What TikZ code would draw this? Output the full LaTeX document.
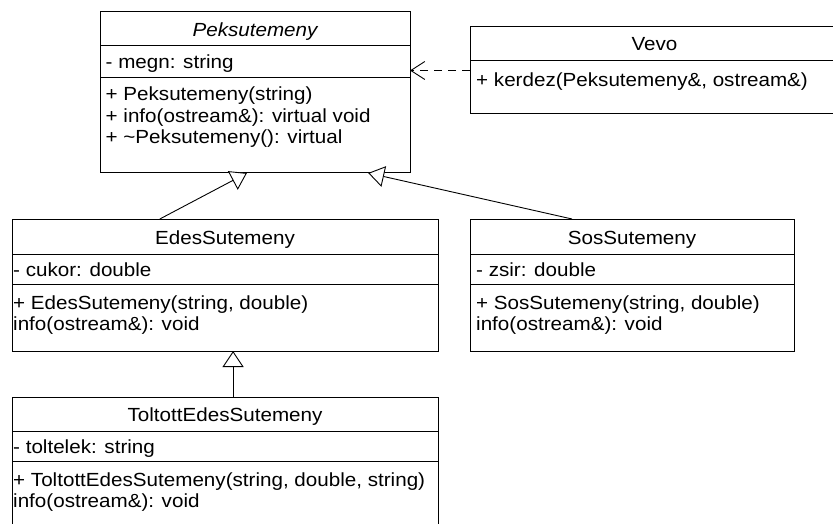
\documentclass[tikz,border=0pt]{standalone}
\usepackage{fontspec}
\setmainfont{Liberation Sans}[FakeStretch=1.085]
\usetikzlibrary{arrows.meta,calc}
\tikzset{
  classbox/.style={draw, line width=1pt, fill=white, inner sep=0pt, outer sep=0pt, anchor=north west},
  sepline/.style={line width=1pt},
  ltxt/.style={anchor=base west, inner sep=0pt, font=\fontsize{19}{21.5}\selectfont},
  ctxt/.style={anchor=base, inner sep=0pt, font=\fontsize{19}{21.5}\selectfont},
  inherit/.style={line width=0.9pt, -{Triangle[open, length=16pt, width=21pt, fill=white]}},
  depend/.style={line width=0.9pt, dash pattern=on 8pt off 6pt, -{Straight Barb[length=14pt, width=18pt]}},
}
\begin{document}
\begin{tikzpicture}[x=1pt,y=-1pt]
\useasboundingbox (0,0) rectangle (833,524);
\clip (0,0) rectangle (833,524);

% Peksutemeny
\node[classbox, minimum width=310pt, minimum height=161pt] (pek) at (100,12) {};
\draw[sepline] ([yshift=-34pt]pek.north west) -- ([yshift=-34pt]pek.north east);
\draw[sepline] ([yshift=-66pt]pek.north west) -- ([yshift=-66pt]pek.north east);
\node[ctxt] (pekT) at ($(pek.north)+(0,25)$) {\itshape Peksutemeny};
\node[ltxt] (pekA) at ($(pek.north west)+(5.5,57)$) {- megn: string};
\node[ltxt] (pekM1) at ($(pek.north west)+(5.5,89)$) {+ Peksutemeny(string)};
\node[ltxt] (pekM2) at ($(pek.north west)+(5.5,110.5)$) {+ info(ostream\&): virtual void};
\node[ltxt] (pekM3) at ($(pek.north west)+(5.5,132)$) {+ \textasciitilde Peksutemeny(): virtual};

% Vevo
\node[classbox, minimum width=369pt, minimum height=87pt] (vevo) at (470,27) {};
\draw[sepline] ([yshift=-34pt]vevo.north west) -- ([yshift=-34pt]vevo.north east);
\node[ctxt] (vevoT) at ($(vevo.north west)+(184.5,24)$) {Vevo};
\node[ltxt] (vevoM1) at ($(vevo.north west)+(6,60)$) {+ kerdez(Peksutemeny\&, ostream\&)};

% EdesSutemeny
\node[classbox, minimum width=426pt, minimum height=132pt] (edes) at (12,219) {};
\draw[sepline] ([yshift=-35pt]edes.north west) -- ([yshift=-35pt]edes.north east);
\draw[sepline] ([yshift=-65pt]edes.north west) -- ([yshift=-65pt]edes.north east);
\node[ctxt] (edesT) at ($(edes.north)+(0,25)$) {EdesSutemeny};
\node[ltxt] (edesA) at ($(edes.north west)+(1,57)$) {- cukor: double};
\node[ltxt] (edesM1) at ($(edes.north west)+(1,90)$) {+ EdesSutemeny(string, double)};
\node[ltxt] (edesM2) at ($(edes.north west)+(1,111.5)$) {info(ostream\&): void};

% SosSutemeny
\node[classbox, minimum width=324pt, minimum height=132pt] (sos) at (470,219) {};
\draw[sepline] ([yshift=-35pt]sos.north west) -- ([yshift=-35pt]sos.north east);
\draw[sepline] ([yshift=-65pt]sos.north west) -- ([yshift=-65pt]sos.north east);
\node[ctxt] (sosT) at ($(sos.north)+(0,25)$) {SosSutemeny};
\node[ltxt] (sosA) at ($(sos.north west)+(6,57)$) {- zsir: double};
\node[ltxt] (sosM1) at ($(sos.north west)+(6,90)$) {+ SosSutemeny(string, double)};
\node[ltxt] (sosM2) at ($(sos.north west)+(6,111.5)$) {info(ostream\&): void};

% ToltottEdesSutemeny
\node[classbox, minimum width=426pt, minimum height=140pt] (tol) at (12,397) {};
\draw[sepline] ([yshift=-34pt]tol.north west) -- ([yshift=-34pt]tol.north east);
\draw[sepline] ([yshift=-64pt]tol.north west) -- ([yshift=-64pt]tol.north east);
\node[ctxt] (tolT) at ($(tol.north)+(0,24)$) {ToltottEdesSutemeny};
\node[ltxt] (tolA) at ($(tol.north west)+(1,56)$) {- toltelek: string};
\node[ltxt] (tolM1) at ($(tol.north west)+(1,89)$) {+ ToltottEdesSutemeny(string, double, string)};
\node[ltxt] (tolM2) at ($(tol.north west)+(1,110.5)$) {info(ostream\&): void};

% connectors
\draw[inherit] ($(edes.north west)!0.347!(edes.north east)$) -- ($(pek.south west)!0.474!(pek.south east)$);
\draw[inherit] ($(sos.north west)!0.315!(sos.north east)$) -- ($(pek.south west)!0.865!(pek.south east)$);
\draw[inherit] ($(tol.north west)!0.519!(tol.north east)$) -- ($(edes.south west)!0.519!(edes.south east)$);
\draw[depend] (vevo.west) -- (vevo.west -| pek.east);
\end{tikzpicture}
\end{document}
